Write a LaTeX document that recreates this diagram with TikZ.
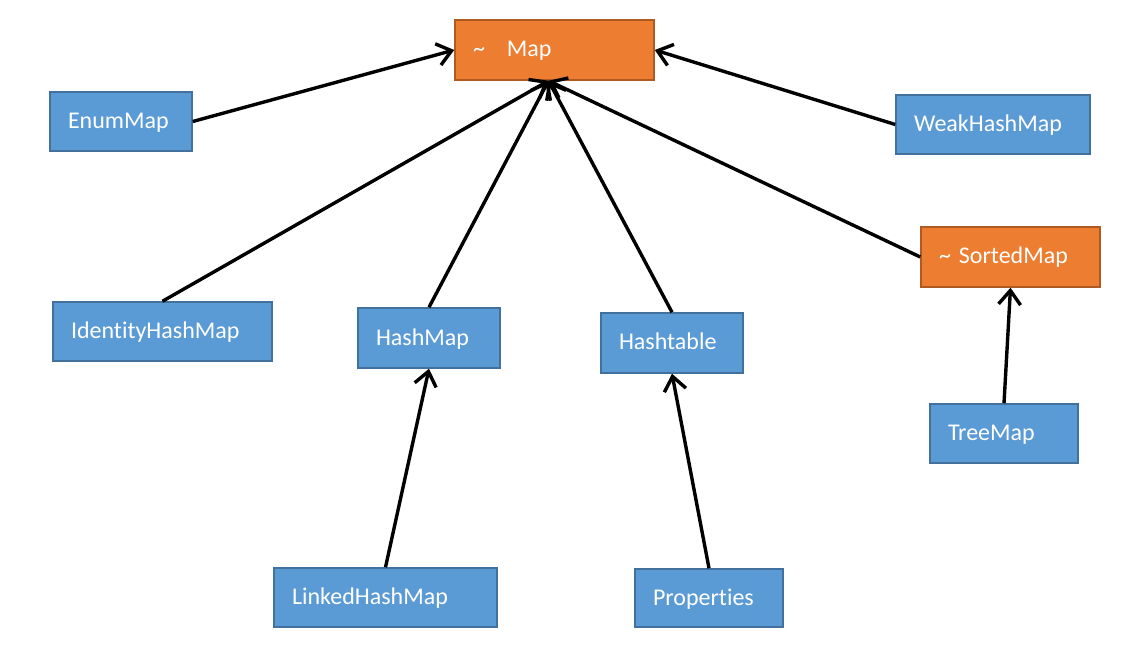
\documentclass[tikz,border=0pt]{standalone}
\usepackage{fontspec}
\setmainfont{Carlito}[Ligatures=CommonOff]
\usepackage{tikz}
\usetikzlibrary{positioning, arrows.meta}
\definecolor{mapBlue}{RGB}{91, 155, 213}
\definecolor{mapBlueEdge}{RGB}{65, 113, 156}
\definecolor{mapOrange}{RGB}{237, 125, 49}
\definecolor{mapOrangeEdge}{RGB}{174, 90, 33}
\tikzset{
    base/.style={
        font=\fontsize{24}{28}\selectfont,
        text=white,
        align=left,
        inner xsep=18pt,
        inner ysep=0pt,
        text height=17pt,
        text depth=3pt,
        line width=1.5pt
    },
    klass/.style={
        base,
        rectangle,
        draw=mapBlueEdge,
        fill=mapBlue
    },
    iface/.style={
        base,
        rectangle,
        draw=mapOrangeEdge,
        fill=mapOrange
    },
    box/.style 2 args={
        minimum width=#1pt,
        minimum height=#2pt,
        text width=#1pt-36pt
    },
    flow/.style={
        -{Straight Barb[length=14pt, width=22pt, line width=3.4pt]},
        line width=3.4pt,
        color=black
    }
}
\begin{document}
\begin{tikzpicture}[x=1pt, y=-1pt]
  \useasboundingbox (0,0) rectangle (1141,652);

  % Interfaces
  \node[iface, box={199}{60}] (map) at (554.5,50) {\textasciitilde\hspace{22pt}Map};
  \node[iface, box={179}{60}] (sorted) at (1010.5,257) {\textasciitilde\ SortedMap};

  % Classes
  \node[klass, box={142}{59}] (enum) at (121,121.5) {EnumMap};
  \node[klass, box={194}{59}] (weak) at (993,124.5) {WeakHashMap};
  \node[klass, box={219}{59}] (ident) at (162.5,331.5) {IdentityHashMap};
  \node[klass, box={142}{60}] (hash) at (429,338) {HashMap};
  \node[klass, box={142}{60}] (table) at (672,343) {Hashtable};
  \node[klass, box={148}{59}] (tree) at (1004,433.5) {TreeMap};
  \node[klass, box={223}{59}] (linked) at (385.5,597.5) {LinkedHashMap};
  \node[klass, box={148}{58}] (props) at (709,598) {Properties};

  \coordinate (mapin) at ([xshift=-6pt]map.south);

  % Inheritance
  \draw[flow] (enum.east) -- (map.west);
  \draw[flow] (weak.west) -- (map.east);
  \draw[flow] (ident.north) -- (mapin);
  \draw[flow] (hash.north) -- (mapin);
  \draw[flow] (table.north) -- (mapin);
  \draw[flow] (sorted.west) -- (mapin);
  \draw[flow] (linked.north) -- (hash.south);
  \draw[flow] (props.north) -- (table.south);
  \draw[flow] (tree.north) -- (sorted.south);
\end{tikzpicture}
\end{document}
